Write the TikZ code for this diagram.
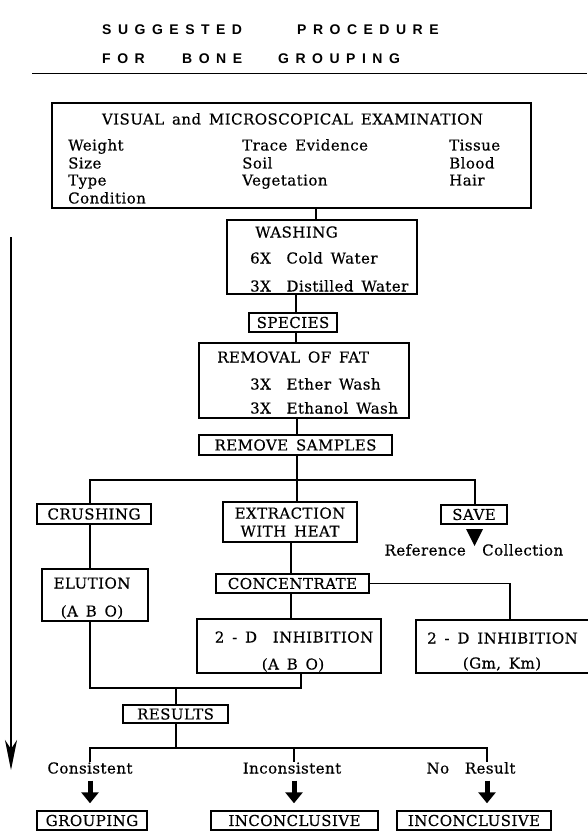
\documentclass[tikz,border=0pt]{standalone}
\usepackage{fontspec}
\setmainfont{DejaVu Serif}[WordSpace=1.5,LetterSpace=3,FakeBold=0.4]
\newfontfamily\titlefont{Liberation Sans}
\usetikzlibrary{arrows.meta}
\newcommand\mf{\fontsize{15}{18}\selectfont}
\newcommand\spcd[1]{\spcdaux#1\relax}
\def\spcdaux#1{\ifx#1\relax\else#1\kern6.5pt\expandafter\spcdaux\fi}
\begin{document}
\begin{tikzpicture}[x=1pt,y=-1pt,
  box/.style={draw,line width=1.4pt,inner sep=0pt,font=\mf,align=center},
  txt/.style={inner sep=0pt,font=\mf,text height=11pt,text depth=0pt},
  ttl/.style={inner sep=0pt,anchor=west,font=\titlefont\bfseries\fontsize{14}{16}\selectfont,text height=10pt,text depth=0pt},
  conn/.style={line width=1.2pt},
  fatarrow/.style={line width=5pt,-{Triangle[length=11pt,width=17pt]},shorten <=7pt,shorten >=7pt},
  bigarrow/.style={line width=1.8pt,-{Stealth[length=30pt,width=12pt,inset=9pt]}}]
\useasboundingbox (0,0) rectangle (587,834);
\fill[white] (0,0) rectangle (587,834);

% title
\node[ttl] (t1a) at (102,30) {\spcd{SUGGESTED}};
\node[ttl] (t1b) at (297,30) {\spcd{PROCEDURE}};
\node[ttl] (t2a) at (102,59) {\spcd{FOR}};
\node[ttl] (t2b) at (182,59) {\spcd{BONE}};
\node[ttl] (t2c) at (278,59) {\spcd{GROUPING}};
\coordinate (r1) at (32,74);
\coordinate (r2) at (587,74);
\draw[line width=1pt] (r1) -- (r2);

% x positions of connectors
\coordinate (xA) at (316,0);
\coordinate (xB) at (296,0);
\coordinate (xC) at (297,0);
\coordinate (xD) at (291,0);
\coordinate (xE) at (510,0);
\coordinate (xF) at (301,0);
\coordinate (xG) at (176,0);
\coordinate (xH) at (487,0);
\coordinate (xL) at (90,0);
\coordinate (xM) at (294,0);
\coordinate (xR) at (475,0);
\coordinate (bar1) at (0,480);
\coordinate (bar2) at (0,688);
\coordinate (bar3) at (0,748);

% top box
\node[box,minimum width=479pt,minimum height=105pt] (top) at (291.5,155.5) {};
\node[txt] (visual) at (292.5,119) {VISUAL and MICROSCOPICAL EXAMINATION};
\node[txt,anchor=west] (weight) at (68,145) {Weight};
\node[txt,anchor=west] (size) at (68,163) {Size};
\node[txt,anchor=west] (type) at (68,180) {Type};
\node[txt,anchor=west] (cond) at (68,198) {Condition};
\node[txt,anchor=west] (trace) at (242,145) {Trace Evidence};
\node[txt,anchor=west] (soil) at (242,163) {Soil};
\node[txt,anchor=west] (veg) at (242,180) {Vegetation};
\node[txt,anchor=west] (tissue) at (449,145) {Tissue};
\node[txt,anchor=west] (blood) at (449,163) {Blood};
\node[txt,anchor=west] (hair) at (449,180) {Hair};

% washing
\node[box,minimum width=190pt,minimum height=74pt] (wash) at (322,257) {};
\node[txt,anchor=west] (washt) at (255,232) {WASHING};
\node[txt,anchor=west] (cold) at (250,258) {6X\ \ Cold Water};
\node[txt,anchor=west] (dist) at (250,286) {3X\ \ Distilled Water};

\node[box,minimum width=88pt,minimum height=19pt] (species) at (293,322.5) {SPECIES};

% removal of fat
\node[box,minimum width=210pt,minimum height=75pt] (fat) at (304,380.5) {};
\node[txt,anchor=west] (fatt) at (217,357) {REMOVAL OF FAT};
\node[txt,anchor=west] (ether) at (250,384) {3X\ \ Ether Wash};
\node[txt,anchor=west] (ethanol) at (250,408) {3X\ \ Ethanol Wash};

\node[box,minimum width=193pt,minimum height=20pt] (remove) at (295.5,445) {REMOVE SAMPLES};

\node[box,minimum width=114pt,minimum height=20pt] (crush) at (94,514) {CRUSHING};
\node[box,minimum width=134pt,minimum height=40pt] (extr) at (290,522) {EXTRACTION\\WITH HEAT};
\node[box,minimum width=66pt,minimum height=19pt] (save) at (474,514.5) {SAVE};
\node[txt,anchor=east] (refer) at (466,550) {Reference};
\node[txt,anchor=west] (coll) at (482,550) {Collection};
\fill (466,529) -- (483,529) -- (474.5,546) -- cycle;

\node[box,minimum width=106pt,minimum height=52pt] (elut) at (95,595) {};
\node[txt] (elutt) at (92,583) {ELUTION};
\node[txt] (elabo) at (92,611) {(A B O)};

\node[box,minimum width=153pt,minimum height=19pt] (conc) at (292.5,583.5) {CONCENTRATE};

\node[box,minimum width=184pt,minimum height=54pt] (inhA) at (289,646) {};
\node[txt] (inhAt) at (294,637) {2 - D\ \ INHIBITION};
\node[txt] (inhAabo) at (293,664) {(A B O)};

\node[box,minimum width=178pt,minimum height=53pt] (inhB) at (505,646.5) {};
\node[txt,anchor=west] (inhBt) at (427,638) {2 - D INHIBITION};
\node[txt] (inhBg) at (502,663) {(Gm, Km)};

\node[box,minimum width=105pt,minimum height=18pt] (results) at (175.5,714) {RESULTS};

\node[txt] (cons) at (90,768) {Consistent};
\node[txt] (incons) at (292,768) {Inconsistent};
\node[txt] (nores) at (471,768) {No\ \ Result};

\node[box,minimum width=110pt,minimum height=19pt] (group) at (92,820.5) {GROUPING};
\node[box,minimum width=167pt,minimum height=19pt] (inc1) at (294.5,820.5) {INCONCLUSIVE};
\node[box,minimum width=154pt,minimum height=19pt] (inc2) at (474,820.5) {INCONCLUSIVE};

% connectors
\draw[conn] (top.south -| xA) -- (wash.north -| xA);
\draw[conn] (wash.south -| xB) -- (species.north -| xB);
\draw[conn] (species.south -| xB) -- (fat.north -| xB);
\draw[conn] (fat.south -| xC) -- (remove.north -| xC);
\draw[conn] (remove.south -| xC) -- (xC |- bar1);
\draw[conn] (crush.north -| xL) -- (xL |- bar1) -- (xR |- bar1) -- (save.north -| xR);
\draw[conn] (xC |- bar1) -- (extr.north -| xC);
\draw[conn] (crush.south -| xL) -- (elut.north -| xL);
\draw[conn] (extr.south -| xD) -- (conc.north -| xD);
\draw[conn] (conc.east) -- (conc.east -| xE) -- (inhB.north -| xE);
\draw[conn] (conc.south -| xD) -- (inhA.north -| xD);
\draw[conn] (elut.south -| xL) -- (xL |- bar2) -- (xF |- bar2) -- (inhA.south -| xF);
\draw[conn] (xG |- bar2) -- (results.north -| xG);
\draw[conn] (results.south -| xG) -- (xG |- bar3);
\draw[conn] (cons.north -| xL) -- (xL |- bar3) -- (xH |- bar3) -- (nores.north -| xH);
\draw[conn] (xM |- bar3) -- (incons.north -| xM);

% fat arrows
\draw[fatarrow] (cons.south -| xL) -- (group.north -| xL);
\draw[fatarrow] (incons.south -| xM) -- (inc1.north -| xM);
\draw[fatarrow] (nores.south -| xH) -- (inc2.north -| xH);

% left arrow
\coordinate (la1) at (11,237);
\coordinate (la2) at (11,770);
\draw[bigarrow] (la1) -- (la2);
\end{tikzpicture}
\end{document}
